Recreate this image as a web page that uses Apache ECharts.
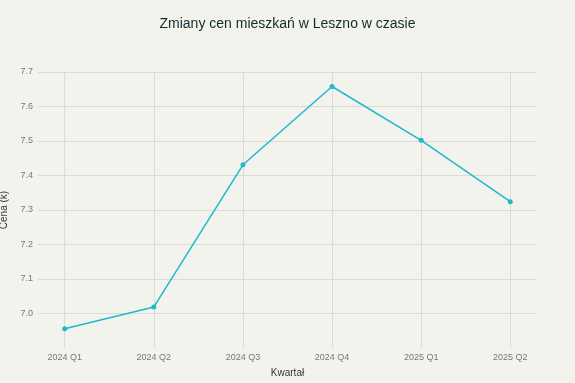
<!DOCTYPE html>
<html>
<head>
<meta charset="utf-8">
<script src="https://cdn.jsdelivr.net/npm/echarts@6/dist/echarts.min.js"></script>
<style>
html,body{margin:0;padding:0;background:#f3f3ee;}
#chart{width:575px;height:383px;}
</style>
</head>
<body>
<div id="chart"></div>
<script>
const categories = ['2024 Q1', '2024 Q2', '2024 Q3', '2024 Q4', '2025 Q1', '2025 Q2'];
const prices = [6.956, 7.019, 7.431, 7.658, 7.502, 7.324];
const yTicks = [7.0, 7.1, 7.2, 7.3, 7.4, 7.5, 7.6, 7.7];

const chart = echarts.init(document.getElementById('chart'), null, {renderer: 'canvas'});
const idx = categories.map((c, i) => i);
const font = 'Liberation Sans, Arial, sans-serif';
chart.setOption({
  backgroundColor: '#f3f3ee',
  animation: false,
  title: {
    text: 'Zmiany cen mieszkań w Leszno w czasie',
    left: 'center',
    top: 12,
    textStyle: {fontFamily: font, fontSize: 14, fontWeight: 'normal', color: '#13292c'}
  },
  grid: {left: 38, right: 38, top: 72, bottom: 35, containLabel: false, outerBoundsMode: 'none'},
  xAxis: {
    type: 'value',
    min: -0.3,
    max: 5.3,
    name: 'Kwartał',
    nameLocation: 'middle',
    nameGap: 20,
    nameTextStyle: {fontFamily: font, fontSize: 10, color: '#333'},
    axisLine: {show: false},
    axisTick: {show: false, customValues: idx},
    axisLabel: {
      customValues: idx,
      margin: 5,
      fontFamily: font, fontSize: 9, color: '#777',
      formatter: v => categories[Math.round(v)] || ''
    },
    splitLine: {show: true, lineStyle: {color: '#dcdcd6', width: 1}}
  },
  yAxis: {
    type: 'value',
    min: 6.9,
    max: 7.7,
    interval: 0.1,
    name: 'Cena (k)',
    nameLocation: 'middle',
    nameGap: 3,
    nameTextStyle: {fontFamily: font, fontSize: 10, color: '#333', padding: [8, 0, 0, 0]},
    axisLine: {show: false},
    axisTick: {show: false, customValues: yTicks},
    axisLabel: {
      customValues: yTicks,
      margin: 5,
      fontFamily: font, fontSize: 9, color: '#777',
      formatter: v => v.toFixed(1)
    },
    splitLine: {show: true, lineStyle: {color: '#dcdcd6', width: 1}}
  },
  series: [{
    type: 'line',
    data: prices.map((p, i) => [i, p]),
    symbol: 'circle',
    symbolSize: 5,
    lineStyle: {color: '#1fb8cd', width: 1.5},
    itemStyle: {color: '#1fb8cd'}
  }]
});
</script>
</body>
</html>
